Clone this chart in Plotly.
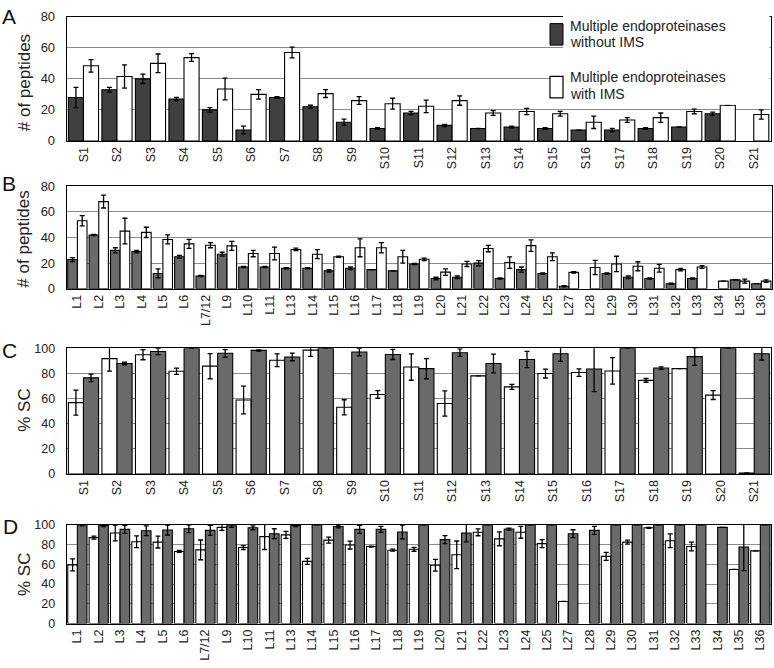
import plotly.graph_objects as go

W, H = 774, 668

# ---------------- Data ----------------
A_cats = ["S%d" % i for i in range(1, 22)]
A_without = [28, 33, 40, 27, 20, 7, 28, 22, 12, 8, 18, 10, 8, 9, 8, 7, 7, 8, 9, 17.5, None]
A_without_err = [6.5, 1.5, 3, 1, 1.5, 2.5, 0.5, 1, 2, 0.5, 1, 0.7, None, 0.5, 0.5, None, 1, 0.5, None, 1, None]
A_with = [48.4, 41.5, 50, 53.7, 33.5, 30, 57, 30.5, 26, 24, 22.3, 26, 18, 19, 17.5, 12, 13.5, 15, 19, 23, 17]
A_with_err = [4, 7.5, 6, 2.5, 7, 3, 3.5, 2.5, 2.5, 3.5, 4, 3, 1.5, 2, 1.5, 4, 1.5, 3, 1.5, None, 3]

B_cats = ["L1", "L2", "L3", "L4", "L5", "L6", "L7/12", "L9", "L10", "L11", "L13", "L14", "L15",
          "L16", "L17", "L18", "L19", "L20", "L21", "L22", "L23", "L24", "L25", "L27", "L28",
          "L29", "L30", "L31", "L32", "L33", "L34", "L35", "L36"]
B_without = [22.8, 42, 30, 29, 12, 25, 10, 27, 17, 17, 16, 16, 14, 16, 15, 14, 19.4, 8, 9, 20, 8, 15,
             12, 2, None, 12, 9, 8, 4, 8, None, 7, 4]
B_without_err = [1.5, 0.5, 2, 1, 3.5, 1, 0.5, 1.5, 0.5, 0.5, 0.5, 0.5, 1, 1, None, None, 0.5, 1, 1, 2,
                 0.5, 2, 0.5, 0.5, None, 0.5, 1, 0.5, 0.5, 0.5, None, None, None]
B_with = [53, 68, 45, 44, 38.5, 35, 34, 33.5, 27.5, 27.5, 30.7, 27, 25, 32, 32, 25, 23, 13, 19.4, 31.4,
          20.4, 33.7, 25, 12.8, 16.6, 19.4, 17.6, 16, 15, 17, 6, 6, 6]
B_with_err = [4, 5, 10, 4, 3.5, 3.5, 2, 3.5, 2.5, 5, 1, 3.5, 0.5, 7, 4, 5, 1, 2.5, 2, 2.5, 4.5, 4.5, 3,
              0.5, 5.5, 6, 3.5, 3, 1, 1, None, 1.5, 1]

C_cats = A_cats
C_without = [56.7, 91.7, 94.8, 81.6, 85.7, 58.8, 90.4, 98.4, 53, 63.2, 85, 56, 78, 69.2, 79.8, 80.6,
             81.9, 74.4, 83.7, 62.7, 0.8]
C_without_err = [10, 10, 4, 2.5, 10, 11, 5, 5, 6, 3, 10.5, 10, None, 2, 3.5, 3, 10.5, 1.5, None, 3.5, None]
C_with = [76.4, 87.8, 97.4, 100, 95.9, 98.2, 93, 100, 96.9, 95, 83.7, 96.4, 87.8, 91, 95.6, 83.4, 100,
          84.2, 93.3, 100, 95.6]
C_with_err = [3, 1, 2.5, None, 3, 0.5, 3, None, 3, 4, 8, 3, 7.5, 6.5, 6, 18, None, 1, 7, None, 5]

D_cats = B_cats
D_without = [59.4, 87, 91.7, 82.8, 82.5, 73, 74.6, 97.4, 77, 88, 89.8, 63, 84.5, 79.5, 78, 74.3, 75.2,
             59, 69.6, 92.4, 85.8, 92.4, 80.9, 22.4, None, 68, 82.5, 97, 83.8, 78, None, 54.8, 73.6]
D_without_err = [6, 1.5, 8, 6, 6, 1, 10, 3, 2, 13, 3.5, 3, 3, 4, 0.5, 1, 2, 6, 14, 3.5, 7, 6, 4, None,
                 None, 4, 2, 0.5, 7, 4.5, None, None, None]
D_with = [100, 99.3, 95.4, 94, 94.7, 96, 94.4, 99, 97, 91, 99.3, 100, 98.3, 95.4, 95.4, 92.7, 100, 85,
          91.7, 100, 95.7, 100, 100, 91, 94.4, 100, 100, 100, 100, 100, 97.4, 77.6, 100]
D_with_err = [1, 1, 4, 5, 5, 4, 5, 1.5, 2, 5, 1, None, 1.5, 4, 3, 7, None, 4, 9, None, 1, None, None, 4,
              4, None, None, None, None, None, None, 24, None]

LEGEND_NAMES = ["Multiple endoproteinases without IMS", "Multiple endoproteinases with IMS"]

# ---------------- Styling ----------------
FONT = "Arial, Liberation Sans, sans-serif"
DARK_A = "#404040"
DARK = "#6a6a6a"
WHITE = "#ffffff"
GRID = "#8c8c8c"


def px(x):
    return x / W


def py(y):
    return 1 - y / H


panels = [
    ("A", A_cats, A_without, A_without_err, A_with, A_with_err, (DARK_A, WHITE), 80, "# of peptides",
     (66.7, 770.5, 10, 137), 13),
    ("B", B_cats, B_without, B_without_err, B_with, B_with_err, (DARK, WHITE), 80, "# of peptides",
     (66.7, 772, 183.3, 288.3), 13),
    ("C", C_cats, C_without, C_without_err, C_with, C_with_err, (WHITE, DARK), 100, "% SC",
     (66.7, 771, 349, 477.7), 12.5),
    ("D", D_cats, D_without, D_without_err, D_with, D_with_err, (WHITE, DARK), 100, "% SC",
     (66.7, 771, 529.7, 630.7), 12.5),
]

fig = go.Figure()
layout = dict(width=W, height=H, margin=dict(l=0, r=0, t=0, b=0),
              paper_bgcolor="white", plot_bgcolor="white", showlegend=False,
              barmode="group", bargap=0.1, bargroupgap=0,
              font=dict(family=FONT, color="#222"))

for i, (name, cats, wo, woe, wi, wie, cols, ymax, ytitle, box, tfs) in enumerate(panels):
    k = "" if i == 0 else str(i + 1)
    for vals, errs, col, lname in ((wo, woe, cols[0], LEGEND_NAMES[0]), (wi, wie, cols[1], LEGEND_NAMES[1])):
        fig.add_trace(go.Bar(
            x=cats, y=vals, name=lname, xaxis="x" + k, yaxis="y" + k,
            marker=dict(color=col, line=dict(color="black", width=1.1)),
            error_y=dict(type="data", array=errs, visible=True, color="black", thickness=1.3, width=2.5),
            offsetgroup=lname,
        ))
    x0, x1, yt, yb = box
    layout["xaxis" + k] = dict(domain=[px(x0), px(x1)], anchor="y" + k, tickangle=-90,
                               showline=True, linecolor="black", linewidth=1, mirror=True,
                               ticks="", tickfont=dict(size=12.5, family=FONT, color="#222"),
                               showgrid=False, fixedrange=True)
    layout["yaxis" + k] = dict(domain=[py(yb), py(yt)], anchor="x" + k, range=[0, ymax], dtick=20,
                               showline=True, linecolor="black", linewidth=1, mirror=True,
                               ticks="", ticklabelstandoff=8,
                               tickfont=dict(size=tfs, family=FONT, color="#222"),
                               showgrid=True, gridcolor=GRID, gridwidth=1, zeroline=False)
fig.update_layout(**layout)

annotations = []
for letter, (x, y) in zip("ABCD", [(9, 10), (9, 181), (9, 351), (10, 531)]):
    annotations.append(dict(text=letter, x=px(x), y=py(y), xref="paper", yref="paper",
                            showarrow=False, font=dict(size=21, family=FONT, color="#111"),
                            xanchor="center", yanchor="middle"))
for title, (x, y) in [("# of peptides", (24, 78)), ("# of peptides", (24, 238)),
                      ("% SC", (25, 412)), ("% SC", (25, 580))]:
    annotations.append(dict(text=title, x=px(x), y=py(y), xref="paper", yref="paper",
                            showarrow=False, textangle=-90,
                            font=dict(size=17, family=FONT, color="#222"),
                            xanchor="center", yanchor="middle"))
for txt, y in [("Multiple endoproteinases", 19), ("without IMS", 36),
               ("Multiple endoproteinases", 72), ("with IMS", 89)]:
    annotations.append(dict(text=txt, x=px(568), y=py(y), xref="paper", yref="paper",
                            showarrow=False, font=dict(size=14, family=FONT, color="#222"),
                            xanchor="left", yanchor="middle"))

shapes = [
    dict(type="rect", xref="paper", yref="paper", x0=px(563), x1=px(769.5), y0=py(100), y1=py(9),
         fillcolor="white", line=dict(width=0), layer="above"),
    dict(type="rect", xref="paper", yref="paper", x0=px(550), x1=px(563), y0=py(39), y1=py(17),
         fillcolor=DARK_A, line=dict(color="black", width=1), layer="above"),
    dict(type="rect", xref="paper", yref="paper", x0=px(550), x1=px(563), y0=py(93), y1=py(71),
         fillcolor="white", line=dict(color="black", width=1.2), layer="above"),
]
fig.update_layout(annotations=annotations, shapes=shapes)

fig.write_html("out.html", config={"displayModeBar": False},
               post_script="document.body.style.margin='0px';document.body.style.overflow='hidden';")
